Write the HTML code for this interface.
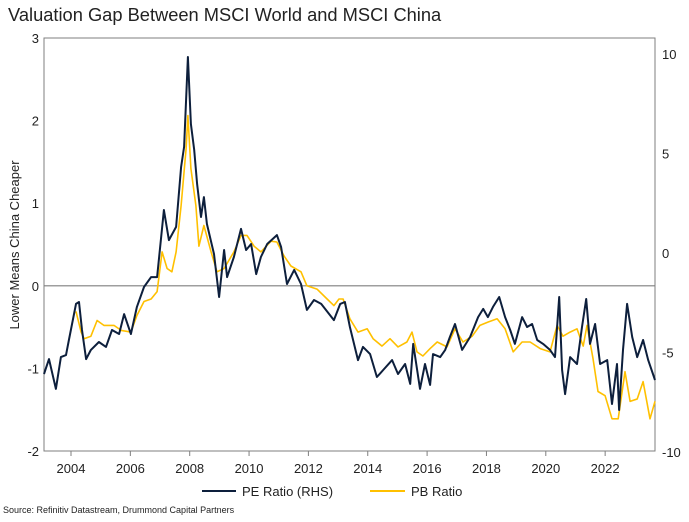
<!DOCTYPE html>
<html><head><meta charset="utf-8">
<style>
body{margin:0;background:#fff;width:689px;height:517px;overflow:hidden;font-family:"Liberation Sans",Arial,sans-serif;}
</style></head>
<body>
<svg id="chart" width="689" height="517" xmlns="http://www.w3.org/2000/svg" font-family="Liberation Sans, Arial, sans-serif">
<text x="8" y="21" font-size="18.3" fill="#222">Valuation Gap Between MSCI World and MSCI China</text>
<text transform="translate(19,245) rotate(-90)" text-anchor="middle" font-size="13" fill="#222">Lower Means China Cheaper</text>
<g id="axes"></g>
<g id="series"></g>
<g>
<line x1="202" y1="491" x2="236" y2="491" stroke="#0d1f3c" stroke-width="2"/>
<text x="242" y="496" font-size="13" fill="#222">PE Ratio (RHS)</text>
<line x1="370" y1="491" x2="405" y2="491" stroke="#ffc000" stroke-width="2"/>
<text x="411" y="496" font-size="13" fill="#222">PB Ratio</text>
</g>
<text x="3" y="513" font-size="9" fill="#222">Source: Refinitiv Datastream, Drummond Capital Partners</text>
</svg>
<script>
const xTicks=[2004,2006,2008,2010,2012,2014,2016,2018,2020,2022];
const yLeftTicks=[3,2,1,0,-1,-2];
const yRightTicks=[10,5,0,-5,-10];
const peDates=[2003.09,2003.26,2003.49,2003.66,2003.83,2003.93,2004.17,2004.27,2004.37,2004.51,2004.67,2004.94,2005.18,2005.38,2005.62,2005.79,2006.02,2006.22,2006.46,2006.70,2006.90,2007.13,2007.30,2007.54,2007.71,2007.81,2007.94,2008.04,2008.15,2008.25,2008.38,2008.48,2008.58,2008.82,2008.99,2009.16,2009.26,2009.49,2009.73,2009.90,2010.07,2010.24,2010.40,2010.61,2010.94,2011.08,2011.28,2011.52,2011.75,2011.95,2012.19,2012.43,2012.86,2013.07,2013.23,2013.40,2013.67,2013.84,2014.08,2014.31,2014.52,2014.82,2015.02,2015.26,2015.43,2015.53,2015.76,2015.93,2016.10,2016.20,2016.44,2016.61,2016.77,2016.94,2017.18,2017.45,2017.72,2017.89,2018.05,2018.22,2018.43,2018.63,2018.80,2018.96,2019.20,2019.37,2019.54,2019.71,2019.91,2020.14,2020.31,2020.45,2020.55,2020.65,2020.82,2021.05,2021.22,2021.36,2021.49,2021.66,2021.83,2022.07,2022.23,2022.40,2022.47,2022.60,2022.74,2022.91,2023.08,2023.28,2023.45,2023.68];
const peValues=[-6.08,-5.33,-6.83,-5.23,-5.13,-4.37,-2.56,-2.46,-3.87,-5.33,-4.87,-4.47,-4.72,-3.87,-4.07,-3.07,-4.07,-2.71,-1.71,-1.21,-1.21,2.16,0.65,1.31,4.32,5.33,9.85,6.48,5.18,3.47,1.81,2.81,1.46,-0.05,-2.21,0.15,-1.21,-0.20,1.21,0.15,0.45,-1.06,-0.20,0.45,0.90,0.30,-1.56,-0.85,-1.56,-2.86,-2.36,-2.56,-3.37,-2.56,-2.46,-3.72,-5.38,-4.72,-5.08,-6.23,-5.88,-5.38,-6.08,-5.58,-6.58,-4.57,-6.83,-5.58,-6.63,-5.08,-5.23,-4.87,-4.22,-3.57,-4.87,-4.22,-3.22,-2.81,-3.22,-2.71,-2.21,-3.22,-3.87,-4.57,-3.22,-3.72,-3.57,-4.37,-4.57,-4.87,-5.23,-2.21,-5.88,-7.09,-5.23,-5.58,-3.72,-2.31,-4.57,-3.57,-5.58,-5.38,-7.59,-5.58,-7.89,-4.87,-2.56,-4.22,-5.23,-4.37,-5.38,-6.38];
const pbDates=[2004.17,2004.34,2004.44,2004.67,2004.88,2005.11,2005.45,2005.69,2006.02,2006.22,2006.46,2006.70,2006.90,2007.07,2007.24,2007.40,2007.54,2007.71,2007.88,2007.94,2008.04,2008.21,2008.31,2008.48,2008.72,2008.92,2009.16,2009.49,2009.73,2009.93,2010.17,2010.40,2010.74,2010.94,2011.18,2011.41,2011.75,2011.95,2012.29,2012.63,2012.86,2013.03,2013.17,2013.40,2013.67,2013.98,2014.18,2014.48,2014.75,2015.02,2015.32,2015.49,2015.66,2015.86,2016.10,2016.34,2016.67,2016.94,2017.21,2017.52,2017.78,2018.05,2018.36,2018.63,2018.90,2019.20,2019.47,2019.81,2020.14,2020.38,2020.58,2020.82,2021.05,2021.26,2021.39,2021.59,2021.76,2022.00,2022.23,2022.44,2022.67,2022.84,2023.08,2023.28,2023.51,2023.68];
const pbValues=[-0.31,-0.56,-0.64,-0.61,-0.42,-0.48,-0.48,-0.54,-0.56,-0.36,-0.19,-0.16,-0.07,0.41,0.21,0.17,0.41,0.97,1.66,2.06,1.42,0.97,0.48,0.73,0.41,0.17,0.21,0.41,0.61,0.61,0.48,0.41,0.54,0.53,0.36,0.24,0.17,0,-0.04,-0.16,-0.24,-0.16,-0.16,-0.40,-0.56,-0.52,-0.64,-0.73,-0.64,-0.74,-0.68,-0.56,-0.80,-0.85,-0.76,-0.68,-0.74,-0.52,-0.68,-0.61,-0.48,-0.44,-0.40,-0.52,-0.80,-0.68,-0.68,-0.76,-0.80,-0.48,-0.61,-0.56,-0.52,-0.73,-0.48,-0.88,-1.28,-1.33,-1.61,-1.61,-1.04,-1.40,-1.37,-1.16,-1.61,-1.40];

const L=44,R=655,T=38,B=451;
const X0=2003.09,X1=2023.68;
const xs=v=>L+(v-X0)/(X1-X0)*(R-L);
const yl=v=>B-(v+2)/5*(B-T);
const yr=v=>452-(v+10)/20*(452-54);
const NS='http://www.w3.org/2000/svg';
function mk(tag,attrs,parent){const e=document.createElementNS(NS,tag);for(const k in attrs)e.setAttribute(k,attrs[k]);parent.appendChild(e);return e;}
const axes=document.getElementById('axes');
const frame=mk('rect',{x:L,y:T,width:R-L,height:B-T,fill:'none',stroke:'#7f7f7f','stroke-width':1},axes);


const zl=mk('line',{x1:L,x2:R,y1:yl(0),y2:yl(0),stroke:'#7f7f7f','stroke-width':1.2},axes);


xTicks.forEach(t=>{
  const tk=mk('line',{x1:xs(t),x2:xs(t),y1:B,y2:B+5,stroke:'#7f7f7f'},axes);
  
  
  const tx=mk('text',{x:xs(t),y:B+22,'text-anchor':'middle','font-size':13,fill:'#222'},axes);
  tx.textContent=t;
  
  
});
yLeftTicks.forEach(t=>{
  const tx=mk('text',{x:39,y:yl(t)+5,'text-anchor':'end','font-size':13,fill:'#222'},axes);
  tx.textContent=t;
  
  
});
yRightTicks.forEach(t=>{
  const tx=mk('text',{x:662,y:yr(t)+5,'text-anchor':'start','font-size':13,fill:'#222'},axes);
  tx.textContent=t;
  
  
});
const series=document.getElementById('series');
const pb=mk('polyline',{points:pbDates.map((d,i)=>xs(d).toFixed(1)+','+yl(pbValues[i]).toFixed(1)).join(' '),fill:'none',stroke:'#ffc000','stroke-width':1.6,'stroke-linejoin':'round'},series);


const pe=mk('polyline',{points:peDates.map((d,i)=>xs(d).toFixed(1)+','+yr(peValues[i]).toFixed(1)).join(' '),fill:'none',stroke:'#0d1f3c','stroke-width':2,'stroke-linejoin':'round'},series);


</script>
</body></html>
